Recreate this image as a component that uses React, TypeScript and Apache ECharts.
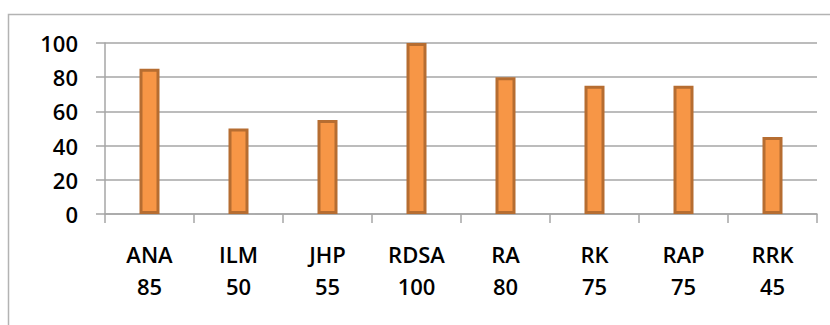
import React, { useEffect, useRef } from "react";
import * as echarts from "echarts";

const categories = ["ANA", "ILM", "JHP", "RDSA", "RA", "RK", "RAP", "RRK"];
const values = [85, 50, 55, 100, 80, 75, 75, 45];
const yMin = 0;
const yMax = 100;
const yInterval = 20;

export default function App() {
  const ref = useRef<HTMLDivElement>(null);
  useEffect(() => {
    if (!ref.current) return;
    const chart = echarts.init(ref.current, null, { renderer: "svg" });
    const font = "'Open Sans', 'Liberation Sans', Arial, sans-serif";
    chart.setOption({
      animation: false,
      backgroundColor: "#ffffff",
      graphic: [
        {
          type: "rect",
          shape: { x: 8.5, y: 14.5, width: 900, height: 400 },
          style: { fill: "none", stroke: "#b3b3b3", lineWidth: 1.5 },
          silent: true,
          z: -1,
        },
      ],
      grid: { left: 105, right: 13, top: 43, bottom: 111, containLabel: false },
      xAxis: {
        type: "category",
        data: categories,
        boundaryGap: true,
        axisLine: { show: true, lineStyle: { color: "#a6a6a6", width: 1.5 } },
        axisTick: { show: true, length: 9, alignWithLabel: false, lineStyle: { color: "#a6a6a6", width: 1.5 } },
        axisLabel: {
          interval: 0,
          margin: 24,
          color: "#000",
          fontFamily: font,
          fontSize: 22,
          fontWeight: 600,
          lineHeight: 32,
          formatter: (v: string, i: number) => `${v}\n${values[i]}`,
        },
        splitLine: { show: false },
      },
      yAxis: {
        type: "value",
        min: yMin,
        max: yMax,
        interval: yInterval,
        axisLine: { show: true, lineStyle: { color: "#a6a6a6", width: 1.5 } },
        axisTick: { show: true, length: 9, lineStyle: { color: "#a6a6a6", width: 1.5 } },
        axisLabel: { margin: 27, color: "#000", fontFamily: font, fontSize: 22, fontWeight: 600 },
        splitLine: { show: true, lineStyle: { color: "#a6a6a6", width: 1.5 } },
      },
      series: [
        {
          type: "bar",
          data: values,
          barWidth: 20,
          itemStyle: {
            color: "#f79646",
            borderColor: "#b66d31",
            borderWidth: 3,
          },
        },
      ],
    });
    return () => chart.dispose();
  }, []);
  return (
    <div
      ref={ref}
      style={{ position: "absolute", left: 0, top: 0, width: 830, height: 325 }}
    />
  );
}
